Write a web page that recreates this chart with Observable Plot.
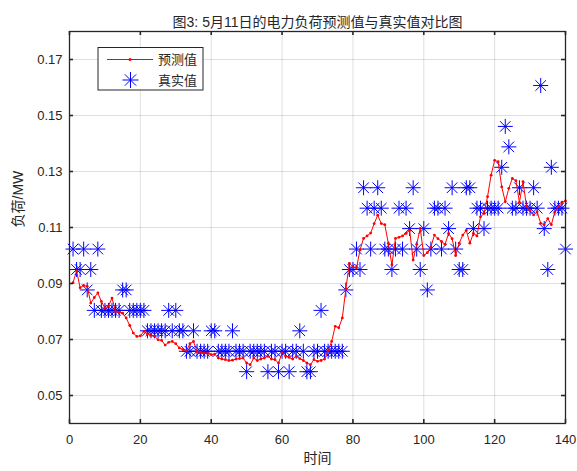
<!DOCTYPE html>
<html><head><meta charset="utf-8">
<script src="https://cdn.jsdelivr.net/npm/d3@7"></script>
<script src="https://cdn.jsdelivr.net/npm/@observablehq/plot@0.6"></script>
<style>body{margin:0;background:#fff}</style>
</head><body><div id="chart"></div>
<script>
const titleText = "图3: 5月11日的电力负荷预测值与真实值对比图";
const xLabel = "时间";
const yLabel = "负荷/MW";
const seriesNames = ["预测值", "真实值"];
const xTicks = [0, 20, 40, 60, 80, 100, 120, 140];
const yTicks = [0.05, 0.07, 0.09, 0.11, 0.13, 0.15, 0.17];

const timeIndex = d3.range(1, 141);

const predicted = [
  0.0903,0.0945,0.0885,0.0893,0.0890,0.0830,0.0850,0.0866,0.0836,0.0812,
  0.0820,0.0848,0.0800,0.0797,0.0794,0.0777,0.0750,0.0723,0.0711,0.0713,
  0.0729,0.0720,0.0715,0.0712,0.0699,0.0697,0.0680,0.0690,0.0693,0.0685,
  0.0670,0.0664,0.0660,0.0685,0.0693,0.0657,0.0655,0.0652,0.0650,0.0646,
  0.0648,0.0634,0.0630,0.0628,0.0625,0.0626,0.0630,0.0632,0.0634,0.0616,
  0.0610,0.0634,0.0625,0.0630,0.0634,0.0640,0.0630,0.0628,0.0616,0.0652,
  0.0640,0.0636,0.0630,0.0640,0.0632,0.0625,0.0616,0.0610,0.0628,0.0622,
  0.0625,0.0630,0.0660,0.0693,0.0747,0.0742,0.0777,0.0880,0.0972,0.0960,
  0.0955,0.1020,0.1061,0.1070,0.1080,0.1114,0.1144,0.1114,0.1110,0.1043,
  0.0966,0.1061,0.1065,0.1070,0.1079,0.1090,0.0984,0.1040,0.1097,0.1000,
  0.1010,0.1030,0.1073,0.1060,0.1050,0.1040,0.1079,0.1060,0.1000,0.1044,
  0.1073,0.1090,0.1044,0.1079,0.1070,0.1138,0.1150,0.1210,0.1287,0.1340,
  0.1335,0.1245,0.1192,0.1240,0.1275,0.1267,0.1190,0.1264,0.1175,0.1160,
  0.1145,0.1156,0.1115,0.1110,0.1132,0.1110,0.1156,0.1175,0.1190,0.1195
];

const actual = [
  0.1023,0.0950,0.0950,0.1023,0.0877,0.0950,0.0804,0.1023,0.0804,0.0804,
  0.0804,0.0804,0.0804,0.0804,0.0877,0.0877,0.0804,0.0804,0.0804,0.0804,
  0.0804,0.0731,0.0731,0.0731,0.0731,0.0731,0.0731,0.0804,0.0731,0.0804,
  0.0731,0.0731,0.0658,0.0658,0.0731,0.0658,0.0658,0.0658,0.0658,0.0731,
  0.0731,0.0658,0.0658,0.0658,0.0658,0.0731,0.0658,0.0658,0.0658,0.0585,
  0.0658,0.0658,0.0658,0.0658,0.0658,0.0585,0.0658,0.0658,0.0585,0.0658,
  0.0658,0.0585,0.0658,0.0658,0.0731,0.0658,0.0585,0.0585,0.0658,0.0658,
  0.0804,0.0658,0.0658,0.0658,0.0658,0.0658,0.0658,0.0877,0.0950,0.0950,
  0.1023,0.0950,0.1242,0.1169,0.1023,0.1169,0.1242,0.1169,0.1023,0.1023,
  0.0950,0.1023,0.1169,0.1023,0.1169,0.1096,0.1242,0.1023,0.0950,0.1096,
  0.0877,0.1023,0.1169,0.1169,0.1023,0.1169,0.1096,0.1242,0.1023,0.0950,
  0.0950,0.1242,0.1242,0.1096,0.1169,0.1169,0.1096,0.1169,0.1169,0.1169,
  0.1169,0.1315,0.1461,0.1388,0.1169,0.1169,0.1242,0.1169,0.1169,0.1169,
  0.1242,0.1169,0.1607,0.1096,0.0950,0.1315,0.1169,0.1169,0.1169,0.1023
];

const data = timeIndex.map((t, i) => ({t, pred: predicted[i], actual: actual[i]}));

const asterisk = {
  draw(ctx, size) {
    const r = Math.sqrt(size / Math.PI);
    const d = r * Math.SQRT1_2;
    ctx.moveTo(-r, 0); ctx.lineTo(r, 0);
    ctx.moveTo(0, -r); ctx.lineTo(0, r);
    ctx.moveTo(-d, -d); ctx.lineTo(d, d);
    ctx.moveTo(-d, d); ctx.lineTo(d, -d);
  }
};

const W = 577, H = 471, mL = 69, mR = 12, mT = 31, mB = 48;
const pW = W - mL - mR, pH = H - mT - mB;
const ink = "#262626";

const svg = Plot.plot({
  width: W, height: H,
  marginLeft: mL, marginRight: mR, marginTop: mT, marginBottom: mB,
  style: {fontFamily: "'Liberation Sans', 'Noto Sans CJK SC', sans-serif", fontSize: "13px", color: ink, background: "#fff"},
  x: {domain: [0, 140], label: null},
  y: {domain: [0.04, 0.18], label: null},
  marks: [
    Plot.gridX(xTicks, {stroke: ink, strokeOpacity: 0.15}),
    Plot.gridY(yTicks, {stroke: ink, strokeOpacity: 0.15}),
    Plot.dot(data, {x: "t", y: "actual", symbol: asterisk, r: 7.5, stroke: "#0000ff", strokeWidth: 1, fill: "none"}),
    Plot.line(data, {x: "t", y: "pred", stroke: "#ff0000", strokeWidth: 1}),
    Plot.dot(data, {x: "t", y: "pred", r: 1.4, fill: "#ff0000"}),
    Plot.frame({stroke: ink, strokeWidth: 1.3}),
    Plot.ruleX(xTicks, {x: d => d, insetTop: pH - 4, stroke: ink, strokeWidth: 1.6}),
    Plot.ruleX(xTicks, {x: d => d, insetBottom: pH - 4, stroke: ink, strokeWidth: 1.6}),
    Plot.ruleY(yTicks, {y: d => d, insetRight: pW - 4, stroke: ink, strokeWidth: 1.6}),
    Plot.ruleY(yTicks, {y: d => d, insetLeft: pW - 4, stroke: ink, strokeWidth: 1.6}),
    Plot.axisX(xTicks, {tickSize: 0, tickPadding: 11, fontSize: 13, label: null}),
    Plot.axisY(yTicks, {tickSize: 0, tickPadding: 7, fontSize: 13, tickFormat: d3.format(".2f"), label: null}),
    Plot.text([titleText], {frameAnchor: "top", dy: -14, fontSize: 14, fill: ink}),
    Plot.text([xLabel], {frameAnchor: "bottom", dy: 39, fontSize: 14, fill: ink}),
    Plot.text([yLabel], {frameAnchor: "left", dx: -51, rotate: -90, fontSize: 14, fill: ink})
  ]
});

// legend inside the axes (upper-left), drawn onto the same svg
const g = d3.select(svg).append("g").attr("font-size", 13).attr("fill", ink).attr("text-anchor", "start");
g.append("rect").attr("x", 98).attr("y", 47.5).attr("width", 105).attr("height", 42.5)
  .attr("fill", "#fff").attr("stroke", ink).attr("stroke-width", 1);
g.append("line").attr("x1", 107).attr("x2", 153).attr("y1", 59.5).attr("y2", 59.5)
  .attr("stroke", "#ff0000").attr("stroke-width", 1);
g.append("circle").attr("cx", 130).attr("cy", 59.5).attr("r", 1.5).attr("fill", "#ff0000");
g.append("path").attr("transform", "translate(130.5,80)")
  .attr("d", d3.symbol().type(asterisk).size(Math.PI * 8 * 8)())
  .attr("stroke", "#0000ff").attr("fill", "none");
g.append("text").attr("x", 158).attr("y", 59.5).attr("dy", "0.36em").attr("text-anchor", "start").text(seriesNames[0]);
g.append("text").attr("x", 158).attr("y", 80).attr("dy", "0.36em").attr("text-anchor", "start").text(seriesNames[1]);

document.getElementById("chart").appendChild(svg);
</script>
</body></html>
